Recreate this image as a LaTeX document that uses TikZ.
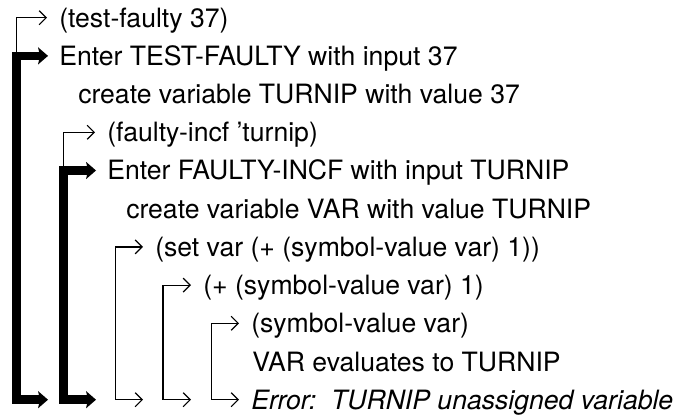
\documentclass[tikz,border=0pt]{standalone}
\usepackage{fontspec}
\setmainfont{TeX Gyre Heros}
\usetikzlibrary{arrows.meta}
\begin{document}
\frenchspacing
\begin{tikzpicture}[x=0.75pt,y=-0.75pt,
  lbl/.style={anchor=west, inner sep=0pt, text height=19.5pt, text depth=5.25pt,
    font=\fontsize{19.95pt}{24pt}\selectfont},
  thinarr/.style={line width=0.9pt, -{Straight Barb[length=5.25pt,width=10.5pt]}, shorten >=9pt},
  thinboth/.style={line width=0.9pt, {Straight Barb[length=5.25pt,width=10.5pt]}-{Straight Barb[length=5.25pt,width=10.5pt]}, shorten >=9pt},
  thickarr/.style={line width=6.5pt, line join=miter,
    {Stealth[length=7.5pt,width=13pt,inset=1.5pt,line width=0pt]}-{Stealth[length=7.5pt,width=13pt,inset=1.5pt,line width=0pt]},
    shorten >=8.25pt}
]
\useasboundingbox (0,0) rectangle (681,417);

\node[lbl] (t1)  at (59,17.7)   {(test-faulty 37)};
\node[lbl] (t2)  at (59,55.9)   {Enter TEST-FAULTY with input 37};
\node[lbl] (t3)  at (78,94.1)   {create variable TURNIP with value 37};
\node[lbl] (t4)  at (107,132.3) {(faulty-incf ’turnip)};
\node[lbl] (t5)  at (107,170.5) {Enter FAULTY-INCF with input TURNIP};
\node[lbl] (t6)  at (126,208.7) {create variable VAR with value TURNIP};
\node[lbl] (t7)  at (155,246.9) {(set var (+ (symbol-value var) 1))};
\node[lbl] (t8)  at (203,285.1) {(+ (symbol-value var) 1)};
\node[lbl] (t9)  at (251,323.3) {(symbol-value var)};
\node[lbl] (t10) at (252,361.5) {VAR evaluates to TURNIP};
\node[lbl] (t11) at (251,399.7) {\itshape Error:\ \ TURNIP unassigned variable};

\coordinate (k1) at (16.2,55.9);
\coordinate (k2) at (63.2,170.5);
\coordinate (c3) at (115.5,246.9);
\coordinate (c4) at (163,285.1);
\coordinate (c5) at (211.5,323.3);
\coordinate (b1) at (48,399.7);
\coordinate (b2) at (96,399.7);
\coordinate (b3) at (143,399.7);
\coordinate (b4) at (191,399.7);
\coordinate (b5) at (239,399.7);

\draw[thinarr] (k1) |- (t1);
\draw[thinarr] (k2) |- (t4);
\draw[thinboth] (b3) -| (c3) -- (t7);
\draw[thinboth] (b4) -| (c4) -- (t8);
\draw[thinboth] (b5) -| (c5) -- (t9);
\draw[thickarr] (b1) -| (k1) -- (t2);
\draw[thickarr] (b2) -| (k2) -- (t5);
\end{tikzpicture}
\end{document}
